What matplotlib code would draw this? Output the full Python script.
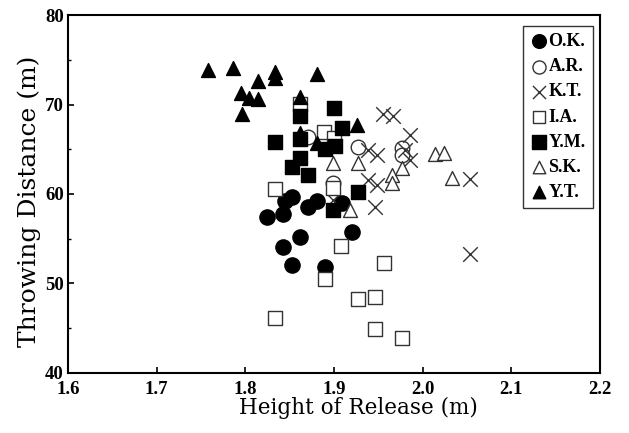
import matplotlib
matplotlib.use("Agg")
import matplotlib.pyplot as plt
from matplotlib.ticker import MultipleLocator

# Height of release (m) / throwing distance (m) per athlete
ok_x = [1.824, 1.842, 1.845, 1.853, 1.871, 1.881, 1.909, 1.920, 1.862, 1.842, 1.853, 1.890]
ok_y = [57.4, 57.8, 59.2, 59.7, 58.5, 59.2, 59.0, 55.8, 55.2, 54.1, 52.1, 51.8]

ar_x = [1.871, 1.927, 1.977, 1.977, 1.899]
ar_y = [66.4, 65.3, 65.1, 64.4, 61.2]

kt_x = [1.955, 1.967, 1.986, 1.938, 1.948, 1.980, 1.986, 1.938, 1.948, 1.946, 2.053, 2.053, 1.899]
kt_y = [68.9, 68.7, 66.6, 64.9, 64.4, 64.9, 63.8, 61.6, 61.0, 58.5, 61.7, 53.3, 59.3]

ia_x = [1.862, 1.889, 1.900, 1.833, 1.899, 1.908, 1.956, 1.890, 1.927, 1.946, 1.833, 1.946, 1.977]
ia_y = [70.1, 66.9, 66.3, 60.6, 60.7, 54.2, 52.3, 50.5, 48.3, 48.5, 46.1, 44.9, 43.9]

ym_x = [1.900, 1.862, 1.833, 1.862, 1.909, 1.890, 1.901, 1.862, 1.853, 1.871, 1.927, 1.899]
ym_y = [69.6, 68.7, 65.8, 66.1, 67.4, 65.0, 65.4, 64.0, 63.0, 62.1, 60.2, 58.2]

sk_x = [1.899, 1.927, 1.918, 1.965, 1.965, 1.977, 2.014, 2.024, 2.033]
sk_y = [63.5, 63.5, 58.2, 62.1, 61.2, 62.9, 64.5, 64.6, 61.8]

yt_x = [1.758, 1.786, 1.814, 1.833, 1.833, 1.795, 1.804, 1.814, 1.796, 1.881, 1.862, 1.926, 1.862, 1.881]
yt_y = [73.9, 74.1, 72.6, 73.6, 73.0, 71.3, 70.7, 70.6, 69.0, 73.4, 70.8, 67.7, 66.8, 65.7]

plt.rcParams['font.family'] = ['Liberation Serif', 'DejaVu Serif']

fig = plt.figure(figsize=(6.29, 4.33), dpi=100)
ax = fig.add_axes([0.108, 0.139, 0.846, 0.826])

ax.scatter(ok_x, ok_y, s=120, marker='o', facecolor='black', edgecolor='black', label='O.K.', zorder=3)
ax.scatter(ar_x, ar_y, s=110, marker='o', facecolor='white', edgecolor='#333333', linewidth=1.0, label='A.R.', zorder=3)
ax.scatter(kt_x, kt_y, s=110, marker='x', color='#333333', linewidth=1.0, label='K.T.', zorder=3)
ax.scatter(ia_x, ia_y, s=100, marker='s', facecolor='white', edgecolor='#333333', linewidth=1.0, label='I.A.', zorder=3)
ax.scatter(ym_x, ym_y, s=110, marker='s', facecolor='black', edgecolor='black', label='Y.M.', zorder=3)
ax.scatter(sk_x, sk_y, s=100, marker='^', facecolor='white', edgecolor='#333333', linewidth=1.0, label='S.K.', zorder=3)
ax.scatter(yt_x, yt_y, s=100, marker='^', facecolor='black', edgecolor='black', label='Y.T.', zorder=3)

ax.set_xlim(1.6, 2.2)
ax.set_ylim(40, 80)
ax.xaxis.set_major_locator(MultipleLocator(0.1))
ax.yaxis.set_major_locator(MultipleLocator(10))
ax.yaxis.set_minor_locator(MultipleLocator(5))
ax.tick_params(direction='in', length=4, width=1.2, labelsize=13.5, pad=3)
ax.tick_params(axis='x', pad=6)
ax.tick_params(which='minor', direction='in', length=2, width=1)
for lab in ax.get_xticklabels() + ax.get_yticklabels():
    lab.set_fontweight('bold')
for sp in ax.spines.values():
    sp.set_linewidth(1.5)

ax.set_xlabel('Height of Release (m)', fontsize=15.5, family='DejaVu Serif')
ax.set_ylabel('Throwing Distance (m)', fontsize=18, family='DejaVu Serif')
ax.xaxis.set_label_coords(0.545, -0.068)
ax.yaxis.set_label_coords(-0.05, 0.48)

leg = ax.legend(loc='upper right', bbox_to_anchor=(1.0, 0.99), prop={'weight': 'bold', 'size': 13},
                handletextpad=0.0, handlelength=1.0, labelspacing=0.45, borderpad=0.4, borderaxespad=0.4,
                fancybox=False, framealpha=1, edgecolor='#333333', markerscale=0.9)
leg.get_frame().set_linewidth(1.0)

fig.savefig('out.png', dpi=100)
